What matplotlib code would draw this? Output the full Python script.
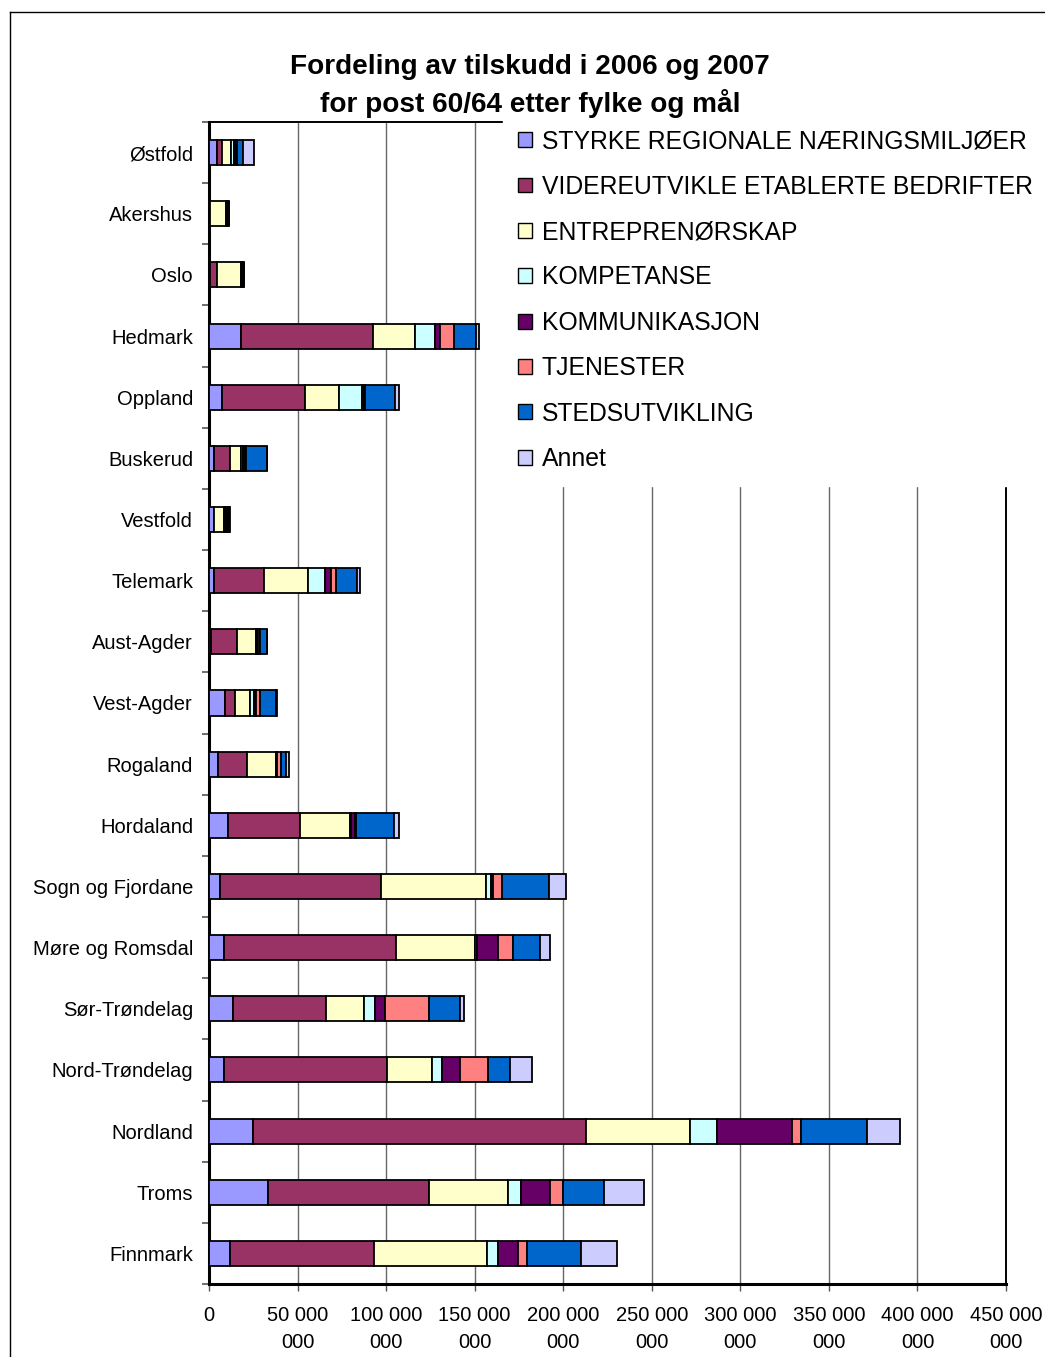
import numpy as np
import matplotlib
matplotlib.use("Agg")
import matplotlib.pyplot as plt
from matplotlib.lines import Line2D
from matplotlib.ticker import FixedLocator, FuncFormatter, MultipleLocator

plt.rcParams['font.family'] = ['Liberation Sans', 'DejaVu Sans']

# fylker (top to bottom)
fylker = ['Østfold', 'Akershus', 'Oslo', 'Hedmark', 'Oppland', 'Buskerud', 'Vestfold',
          'Telemark', 'Aust-Agder', 'Vest-Agder', 'Rogaland', 'Hordaland',
          'Sogn og Fjordane', 'Møre og Romsdal', 'Sør-Trøndelag', 'Nord-Trøndelag',
          'Nordland', 'Troms', 'Finnmark']

# tilskudd per mål, mill. kr
styrke = [4.4, 0.3, 0.5, 17.9, 7.2, 2.8, 2.8, 2.8, 1.0, 9.2, 4.9, 10.5, 6.0, 8.3, 13.6, 8.3, 24.7, 33.2, 11.9]
videre = [2.7, 0.5, 4.0, 74.7, 46.9, 8.8, 0.3, 28.2, 14.9, 5.5, 16.6, 41.0, 91.3, 97.5, 52.3, 92.2, 188.2, 91.1, 81.0]
entre = [5.5, 8.8, 13.7, 23.9, 19.4, 6.2, 5.6, 24.8, 10.9, 8.7, 16.2, 27.9, 59.3, 44.4, 21.6, 25.6, 58.9, 44.4, 63.9]
komp = [1.7, 0.5, 0.4, 10.9, 13.0, 1.5, 0.5, 9.8, 0.3, 1.9, 0.3, 0.5, 2.8, 1.0, 6.0, 5.5, 15.1, 7.3, 6.5]
komm = [1.0, 0.5, 0.3, 3.2, 1.1, 1.2, 1.0, 3.0, 0.3, 1.5, 0.5, 2.5, 1.2, 11.9, 5.6, 10.0, 42.1, 16.6, 10.9]
tjen = [0.5, 0.3, 0.3, 7.5, 0.3, 0.3, 0.3, 3.2, 1.5, 1.9, 1.9, 0.8, 5.1, 8.5, 25.0, 16.0, 5.5, 7.5, 5.5]
sted = [3.2, 0.5, 0.5, 12.8, 17.1, 11.9, 1.0, 11.7, 3.8, 9.2, 3.2, 21.5, 26.0, 15.4, 17.7, 12.2, 36.9, 22.8, 30.1]
annet = [6.6, 0.0, 0.0, 1.5, 2.3, 0.0, 0.2, 1.5, 0.3, 0.3, 1.5, 2.3, 9.8, 5.3, 1.9, 12.8, 18.7, 22.6, 20.5]

serier = ['STYRKE REGIONALE NÆRINGSMILJØER', 'VIDEREUTVIKLE ETABLERTE BEDRIFTER',
          'ENTREPRENØRSKAP', 'KOMPETANSE', 'KOMMUNIKASJON', 'TJENESTER',
          'STEDSUTVIKLING', 'Annet']
farger = ['#9999FF', '#993366', '#FFFFCC', '#CCFFFF', '#660066', '#FF8080', '#0066CC', '#CCCCFF']

data = [styrke, videre, entre, komp, komm, tjen, sted, annet]

fig = plt.figure(figsize=(10.45, 13.57), dpi=100)
ax = fig.add_axes([0.2, 0.0538, 0.7627, 0.8563])

y = np.arange(len(fylker))
left = np.zeros(len(fylker))
for navn, verdier, farge in zip(serier, data, farger):
    v = np.array(verdier) * 1e6
    ax.barh(y, v, left=left, height=0.41, color=farge, edgecolor='black',
            linewidth=1.3, label=navn, zorder=3)
    left += v

ax.set_xlim(0, 450e6)
ax.set_ylim(len(fylker) - 0.5, -0.5)
ax.xaxis.set_major_locator(MultipleLocator(50e6))


def fmt(v, pos):
    n = int(round(v))
    if n == 0:
        return '0'
    s = f'{n:,}'.replace(',', ' ')
    return s[:-4] + '\n' + s[-3:]


ax.xaxis.set_major_formatter(FuncFormatter(fmt))
ax.grid(axis='x', color='#666666', linewidth=1, zorder=0)
ax.set_axisbelow(True)

ax.set_yticks(y)
ax.set_yticklabels(fylker)
ax.yaxis.set_minor_locator(FixedLocator(np.arange(-0.5, len(fylker), 1)))
ax.tick_params(axis='y', which='major', length=0, pad=11.5, labelsize=14.5)
ax.tick_params(axis='y', which='minor', length=5, width=1.2, color='#555555')
ax.tick_params(axis='x', which='major', length=5, width=1, color='#555555',
               pad=11, labelsize=14.5)
for lab in ax.get_xticklabels():
    lab.set_linespacing(1.5)
    lab.set_verticalalignment('top')

for side in ['left', 'bottom']:
    ax.spines[side].set_linewidth(2.2)
for side in ['top', 'right']:
    ax.spines[side].set_linewidth(1.4)

leg = ax.legend(loc='upper left', bbox_to_anchor=(503 / 1045, 1 - 114 / 1357),
                bbox_transform=fig.transFigure, fontsize=17.8, frameon=True,
                facecolor='white', edgecolor='white', framealpha=1, fancybox=False,
                handlelength=0.55, handleheight=0.55, handletextpad=0.4,
                labelspacing=0.865, borderpad=0.62, borderaxespad=0)
for h in leg.legend_handles:
    h.set_linewidth(1.0)
leg.set_zorder(10)

fig.text(0.507, 1 - 86 / 1357, 'Fordeling av tilskudd i 2006 og 2007\nfor post 60/64 etter fylke og mål',
         ha='center', va='center', fontsize=20.2, fontweight='bold', linespacing=1.38)

# ramme rundt diagrammet
fig.add_artist(Line2D([10 / 1045, 10 / 1045], [0, 1 - 12 / 1357], color='black', lw=1,
                      transform=fig.transFigure))
fig.add_artist(Line2D([10 / 1045, 1], [1 - 12 / 1357, 1 - 12 / 1357], color='black', lw=1,
                      transform=fig.transFigure))

fig.savefig('out.png', dpi=100)
